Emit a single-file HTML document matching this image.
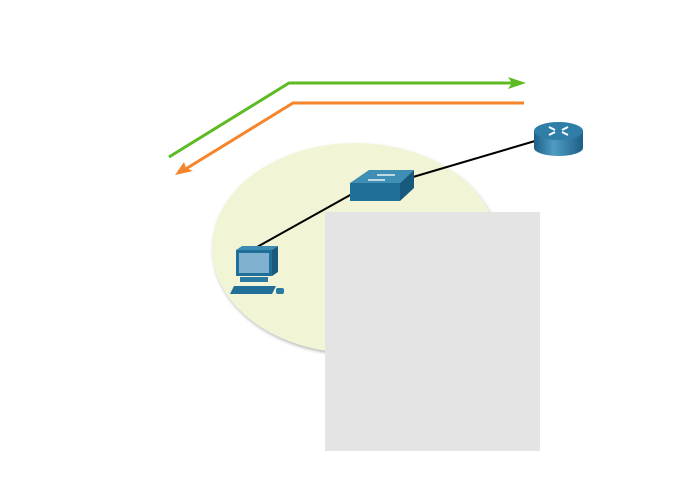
<!DOCTYPE html>
<html><head><style>body{margin:0;background:#fff}svg{display:block}</style></head>
<body>
<svg width="680" height="490" viewBox="0 0 680 490" xmlns="http://www.w3.org/2000/svg">
<defs>
<filter id="sh" x="-10%" y="-10%" width="130%" height="130%"><feDropShadow dx="1" dy="2" stdDeviation="1.5" flood-color="#888" flood-opacity="0.6"/></filter>
<linearGradient id="rg" x1="0" x2="1"><stop offset="0" stop-color="#1d5f86"/><stop offset="0.4" stop-color="#4f9cc4"/><stop offset="1" stop-color="#1d5f86"/></linearGradient>
</defs>
<ellipse cx="355" cy="248" rx="143" ry="105" fill="#f2f5d5" filter="url(#sh)"/>
<rect x="325" y="212" width="215" height="239" fill="#e4e4e4"/>
<polyline points="169,157 289,83 515,83" fill="none" stroke="#5dbb21" stroke-width="3"/>
<polygon points="526,83 508,77 512,83 508,89" fill="#5dbb21"/>
<polyline points="524,103 293,103 184,170" fill="none" stroke="#f5842a" stroke-width="3"/>
<polygon points="175,175 184,162 186,168 193,171" fill="#f5842a"/>
<line x1="257" y1="247" x2="352" y2="194" stroke="#000" stroke-width="2"/>
<line x1="413" y1="177" x2="535" y2="141" stroke="#000" stroke-width="2"/>
<!-- switch -->
<polygon points="350,183 369,170 414,170 400,183" fill="#3f8fb5"/>
<rect x="350" y="183" width="50" height="18" fill="#1f6f99"/>
<polygon points="400,183 414,170 414,188 400,201" fill="#175a7e"/>
<line x1="377" y1="175" x2="395" y2="175" stroke="#e8f2f7" stroke-width="1.5"/>
<line x1="368" y1="180" x2="385" y2="180" stroke="#e8f2f7" stroke-width="1.5"/>
<!-- router -->
<rect x="534" y="131" width="49" height="17" fill="url(#rg)"/>
<ellipse cx="558.5" cy="148" rx="24.5" ry="8" fill="url(#rg)"/>
<ellipse cx="558.5" cy="131" rx="24.5" ry="9" fill="#2f7ea8"/>
<path d="M549 127 l6 3 M568 127 l-6 3 M549 135 l6 -3 M568 135 l-6 -3" stroke="#fff" stroke-width="2"/>
<!-- pc -->
<polygon points="236,250 242,246 278,246 272,250" fill="#3d8cb3"/>
<rect x="236" y="250" width="36" height="26" fill="#1f6f99"/>
<polygon points="272,250 278,246 278,272 272,276" fill="#175a7e"/>
<rect x="239" y="253" width="30" height="20" fill="#7fb2d0"/>
<rect x="240" y="277" width="28" height="5" fill="#2a7aa2"/>
<polygon points="234,286 276,286 272,294 230,294" fill="#1f6f99"/>
<rect x="276" y="288" width="8" height="6" rx="2" fill="#2a7aa2"/>
</svg>
</body></html>
